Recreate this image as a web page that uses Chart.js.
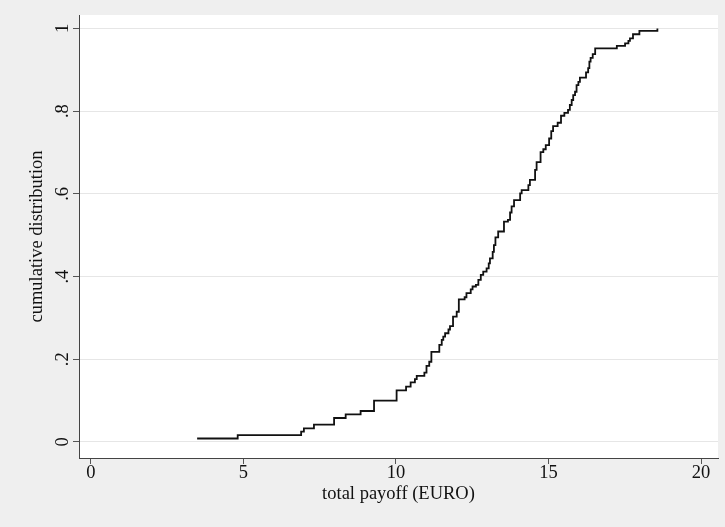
<!DOCTYPE html>
<html>
<head>
<meta charset="utf-8">
<script src="https://cdn.jsdelivr.net/npm/chart.js@4/dist/chart.umd.min.js"></script>
<style>
  html, body { margin: 0; padding: 0; background: #efefef; }
  #wrap { width: 725px; height: 527px; }
</style>
</head>
<body>
<div id="wrap"><canvas id="c" width="725" height="527"></canvas></div>
<script>
const payoff = [
  3.48, 4.81, 6.89, 6.98, 7.31, 7.97, 8.35, 8.84, 9.28, 10.02,
  10.33, 10.48, 10.62, 10.68, 10.93, 11.00, 11.09, 11.16, 11.42, 11.50,
  11.55, 11.61, 11.72, 11.77, 11.87, 11.99, 12.06, 12.25, 12.31, 12.45,
  12.51, 12.62, 12.70, 12.78, 12.86, 12.97, 13.04, 13.08, 13.17, 13.21,
  13.26, 13.35, 13.54, 13.67, 13.74, 13.79, 13.87, 14.07, 14.12, 14.34,
  14.39, 14.56, 14.61, 14.74, 14.83, 14.91, 15.02, 15.09, 15.15, 15.30,
  15.41, 15.52, 15.64, 15.70, 15.76, 15.81, 15.87, 15.92, 15.98, 16.03,
  16.23, 16.30, 16.34, 16.38, 16.45, 16.53, 17.24, 17.51, 17.62, 17.67,
  17.77, 17.98, 18.57
];
// Cumulative distribution value reached at each step
const cumulative = [
  0.0085, 0.0167, 0.025, 0.033, 0.042, 0.058, 0.067, 0.075, 0.100, 0.125,
  0.134, 0.144, 0.152, 0.160, 0.168, 0.184, 0.194, 0.218, 0.235, 0.247,
  0.255, 0.263, 0.272, 0.280, 0.303, 0.315, 0.345, 0.350, 0.360, 0.369,
  0.376, 0.380, 0.392, 0.404, 0.412, 0.420, 0.432, 0.444, 0.460, 0.476,
  0.495, 0.509, 0.533, 0.537, 0.555, 0.570, 0.585, 0.601, 0.609, 0.621,
  0.634, 0.658, 0.677, 0.701, 0.708, 0.718, 0.734, 0.752, 0.764, 0.772,
  0.789, 0.796, 0.803, 0.815, 0.827, 0.839, 0.847, 0.863, 0.871, 0.881,
  0.894, 0.904, 0.920, 0.929, 0.938, 0.952, 0.958, 0.964, 0.970, 0.976,
  0.986, 0.994, 1.000
];
const xTickValues = [0, 5, 10, 15, 20];
const xTickLabels = ['0', '5', '10', '15', '20'];
const yTickValues = [0, 0.2, 0.4, 0.6, 0.8, 1];
const yTickLabels = ['0', '.2', '.4', '.6', '.8', '1'];
const xTitle = 'total payoff (EURO)';
const yTitle = 'cumulative distribution';

const points = payoff.map((x, i) => ({ x: x, y: cumulative[i] }));

const plotBg = {
  id: 'plotBg',
  beforeDraw(chart) {
    const { ctx, chartArea: a } = chart;
    ctx.save();
    ctx.fillStyle = '#efefef';
    ctx.fillRect(0, 0, chart.width, chart.height);
    ctx.fillStyle = '#ffffff';
    ctx.fillRect(a.left, a.top, a.right - a.left, a.bottom - a.top);
    ctx.restore();
  }
};

const serif = 'Liberation Serif';
const tickFont = { family: serif, size: 18.5, lineHeight: 1 };
const titleFont = { family: serif, size: 18.5, lineHeight: 1.2 };

new Chart(document.getElementById('c'), {
  type: 'line',
  data: {
    datasets: [{
      data: points,
      stepped: 'before',
      borderColor: '#111111',
      borderWidth: 1.8,
      pointRadius: 0,
      fill: false
    }]
  },
  plugins: [plotBg],
  options: {
    responsive: false,
    devicePixelRatio: 1,
    animation: false,
    layout: { padding: { top: 15, right: 7, left: 0, bottom: 0 } },
    plugins: { legend: { display: false }, tooltip: { enabled: false } },
    scales: {
      x: {
        type: 'linear',
        min: -0.393,
        max: 20.557,
        afterFit(s) { s.height = 69; },
        afterBuildTicks(s) { s.ticks = xTickValues.map(v => ({ value: v })); },
        ticks: {
          font: tickFont,
          color: '#111',
          padding: 0,
          maxRotation: 0,
          callback: (v) => { const i = xTickValues.indexOf(v); return i >= 0 ? xTickLabels[i] : ''; }
        },
        grid: { drawOnChartArea: false, drawTicks: true, tickLength: 6, tickColor: '#555', color: '#555' },
        border: { display: true, color: '#444', width: 1 },
        title: { display: true, text: xTitle, font: titleFont, color: '#111', padding: { top: 0, bottom: 22 } }
      },
      y: {
        type: 'linear',
        min: -0.0387,
        max: 1.0326,
        afterFit(s) { s.width = 79; },
        afterBuildTicks(s) { s.ticks = yTickValues.map(v => ({ value: v })); },
        ticks: {
          font: tickFont,
          color: '#111',
          padding: 3,
          minRotation: 90,
          maxRotation: 90,
          crossAlign: 'center',
          callback: (v) => { const i = yTickValues.findIndex(t => Math.abs(t - v) < 1e-9); return i >= 0 ? yTickLabels[i] : ''; }
        },
        grid: { drawOnChartArea: true, drawTicks: true, tickLength: 6, color: '#e6e6e6', tickColor: '#555', lineWidth: 1 },
        border: { display: true, color: '#444', width: 1 },
        title: { display: true, text: yTitle, font: titleFont, color: '#111', padding: { top: 26, bottom: 0 } }
      }
    }
  }
});
</script>
</body>
</html>
